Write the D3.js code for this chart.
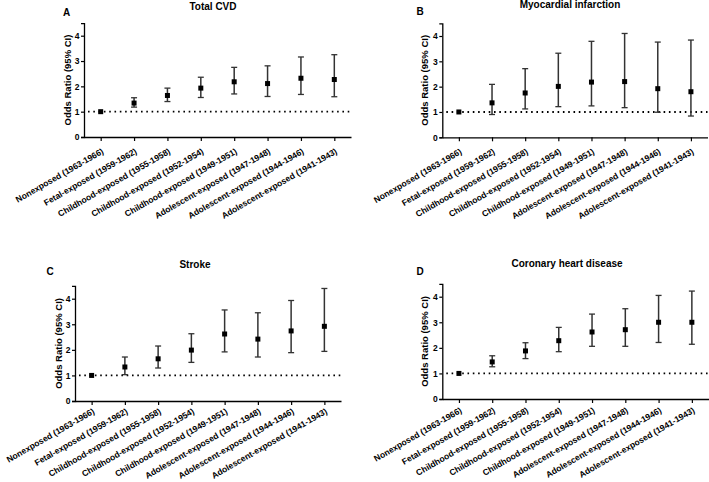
<!DOCTYPE html>
<html><head><meta charset="utf-8">
<script src="https://cdn.jsdelivr.net/npm/d3@7"></script>
<style>
body{margin:0;background:#fff;}
svg{display:block;}
text{font-family:"Liberation Sans",Arial,sans-serif;}
</style></head>
<body>
<svg id="c" width="709" height="482"></svg>
<script>
const categories = ["Nonexposed (1963-1966)","Fetal-exposed (1959-1962)","Childhood-exposed (1955-1958)","Childhood-exposed (1952-1954)","Childhood-exposed (1949-1951)","Adolescent-exposed (1947-1948)","Adolescent-exposed (1944-1946)","Adolescent-exposed (1941-1943)"];
const yTicks = [0,1,2,3,4];
const panelLetters = ["A","B","C","D"];
const panelTitles = ["Total CVD","Myocardial infarction","Stroke","Coronary heart disease"];

const cvdOR   = [1.00,1.34,1.64,1.93,2.18,2.11,2.32,2.27];
const cvdLow  = [1.00,1.18,1.40,1.56,1.70,1.60,1.68,1.59];
const cvdHigh = [1.00,1.55,1.93,2.36,2.75,2.81,3.16,3.25];

const miOR    = [1.00,1.36,1.75,2.01,2.18,2.20,1.92,1.80];
const miLow   = [1.00,0.90,1.12,1.21,1.24,1.17,0.99,0.84];
const miHigh  = [1.00,2.09,2.71,3.32,3.79,4.10,3.76,3.84];

const strokeOR   = [1.00,1.33,1.65,1.99,2.62,2.42,2.74,2.92];
const strokeLow  = [1.00,1.03,1.29,1.51,1.92,1.72,1.89,1.94];
const strokeHigh = [1.00,1.72,2.15,2.63,3.56,3.45,3.93,4.40];

const chdOR   = [1.00,1.45,1.88,2.28,2.62,2.71,3.00,3.00];
const chdLow  = [1.00,1.26,1.58,1.85,2.06,2.06,2.21,2.14];
const chdHigh = [1.00,1.69,2.20,2.80,3.32,3.53,4.05,4.22];

const panelData = [[cvdOR,cvdLow,cvdHigh],[miOR,miLow,miHigh],[strokeOR,strokeLow,strokeHigh],[chdOR,chdLow,chdHigh]];

// layout per panel
const layouts = [
  {x0:84,  x1:351, y0:137, y4:35.7, letter:[63,16], title:[213,10], ylab:68, lab:16},
  {x0:442.3,x1:707.5,y0:137.3,y4:36, letter:[416.5,15], title:[570,8], ylab:425, lab:16},
  {x0:75,  x1:341, y0:401, y4:298.7, letter:[46.5,275], title:[195,267.5], ylab:58.5, lab:12},
  {x0:442.3,x1:708.5,y0:399, y4:296.7, letter:[416.5,275], title:[567,267], ylab:425, lab:13}
];

const svg = d3.select("#c");
const ink = "#000", barCol = "#333";

layouts.forEach((L,pi)=>{
  const [or,lo,hi] = panelData[pi];
  const x = d3.scalePoint().domain(categories).range([L.x0,L.x1]).padding(0.5);
  const unit = (L.y0-L.y4)/4;
  const y = d3.scaleLinear().domain([0,4.5]).range([L.y0, L.y0-4.5*unit]);
  const g = svg.append("g");

  // y axis
  const ya = g.append("g").attr("transform",`translate(${L.x0},0)`)
    .call(d3.axisLeft(y).tickValues(yTicks).tickSize(3).tickPadding(1.5).tickFormat(d3.format("d")));
  ya.select(".domain").attr("stroke",ink).attr("stroke-width",1.3);
  ya.selectAll(".tick line").attr("stroke",ink).attr("stroke-width",1.2);
  ya.selectAll(".tick text").attr("font-size","8.5px").attr("font-weight","bold").attr("fill",ink);

  // x axis
  const xa = g.append("g").attr("transform",`translate(0,${L.y0})`)
    .call(d3.axisBottom(x).tickSize(4).tickSizeOuter(0));
  xa.select(".domain").attr("stroke",ink).attr("stroke-width",1.3);
  xa.selectAll(".tick line").attr("stroke",ink).attr("stroke-width",1.2);
  xa.selectAll(".tick text")
    .attr("font-size","8.5px").attr("font-weight","bold").attr("fill",ink)
    .attr("text-anchor","end").attr("dy",null).attr("y",null)
    .attr("transform",`translate(3,${L.lab}) rotate(-30)`);

  // reference line at OR = 1
  g.append("line").attr("x1",L.x0+4).attr("x2",L.x1).attr("y1",y(1)).attr("y2",y(1))
    .attr("stroke",ink).attr("stroke-width",1.8).attr("stroke-dasharray","1.6,3.7");

  // error bars
  categories.forEach((c,i)=>{
    const cx = x(c);
    if (hi[i] - lo[i] > 0.01) {
      g.append("line").attr("x1",cx).attr("x2",cx).attr("y1",y(lo[i])).attr("y2",y(hi[i]))
        .attr("stroke",barCol).attr("stroke-width",1.5);
      [lo[i],hi[i]].forEach(v=>{
        g.append("line").attr("x1",cx-3).attr("x2",cx+3).attr("y1",y(v)).attr("y2",y(v))
          .attr("stroke",barCol).attr("stroke-width",1.3);
      });
    }
    g.append("rect").attr("x",cx-2.5).attr("y",y(or[i])-2.5).attr("width",5).attr("height",5).attr("fill",ink);
  });

  // y label
  g.append("text").attr("transform",`translate(${L.ylab},${(L.y0+y(4.5))/2}) rotate(-90)`)
    .attr("text-anchor","middle").attr("dy","0.35em").attr("font-size","9.5px").attr("font-weight","bold")
    .attr("fill",ink).text("Odds Ratio (95% CI)");

  // title & letter
  g.append("text").attr("x",L.title[0]).attr("y",L.title[1]).attr("text-anchor","middle")
    .attr("font-size","10px").attr("font-weight","bold").attr("fill",ink).text(panelTitles[pi]);
  g.append("text").attr("x",L.letter[0]).attr("y",L.letter[1])
    .attr("font-size","10px").attr("font-weight","bold").attr("fill",ink).text(panelLetters[pi]);
});
</script>
</body></html>
